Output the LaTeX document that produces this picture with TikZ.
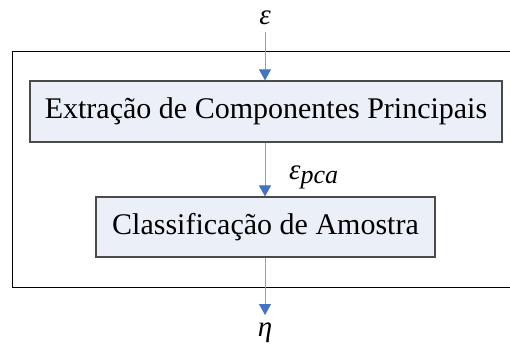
\documentclass[tikz,border=0pt]{standalone}
\usepackage{fontspec}
\setmainfont{Liberation Serif}
\usetikzlibrary{arrows.meta,positioning}

\definecolor{boxfill}{HTML}{EBF0F8}
\definecolor{boxline}{HTML}{4A4A4A}
\definecolor{flowline}{HTML}{7FA2D6}
\definecolor{flowtip}{HTML}{4472C4}

\begin{document}
\begin{tikzpicture}[x=1pt, y=-1pt,
    block/.style={draw=boxline, line width=1.2pt, fill=boxfill, inner sep=0pt,
      font=\fontsize{30}{36}\selectfont},
    flow/.style={draw=flowline, line width=1pt, -{Triangle[length=11pt,width=12pt,color=flowtip]}},
    sym/.style={font=\fontsize{29}{34}\selectfont\itshape, inner sep=0pt}]
  \useasboundingbox (0,0) rectangle (510,351);
  % outer frame, open on the right
  \draw[line width=1pt] (510,51) -| (12,287) -- (510,287);
  \node[block, minimum width=472pt, minimum height=61pt] (pca) at (266,111.5)
    {Extração de Componentes Principais};
  \node[block, minimum width=339pt, minimum height=60pt] (cls) at (265.5,227)
    {Classificação de Amostra};
  \node[sym] (eps) at (265,18) {ε};
  \node[sym, anchor=west] (epspca) at (289,177)
    {ε\raisebox{-0.3ex}{\fontsize{26}{28}\selectfont pca}};
  \node[sym] (eta) at (265,333) {η};
  \draw[flow] (eps.south |- 0,32) -- (pca.north -| eps);
  \draw[flow] (pca.south -| eps) -- (cls.north -| eps);
  \draw[flow] (cls.south -| eps) -- (265,315);
\end{tikzpicture}
\end{document}
